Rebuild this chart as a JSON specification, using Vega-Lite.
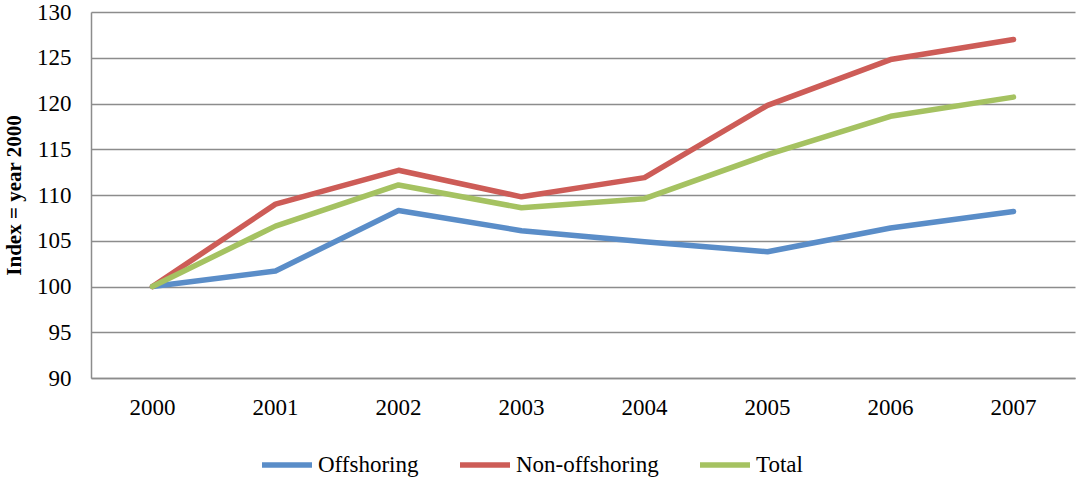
{
  "$schema": "https://vega.github.io/schema/vega-lite/v6.json",
  "width": 984,
  "height": 366,
  "autosize": {"type": "none"},
  "padding": {"left": 91, "top": 12, "right": 2, "bottom": 103},
  "background": "white",
  "config": {
    "font": "serif",
    "view": {"stroke": null}
  },
  "data": {
    "values": [
      {"year": "2000", "series": "Offshoring", "value": 100},
      {"year": "2001", "series": "Offshoring", "value": 101.7},
      {"year": "2002", "series": "Offshoring", "value": 108.3},
      {"year": "2003", "series": "Offshoring", "value": 106.1},
      {"year": "2004", "series": "Offshoring", "value": 104.9},
      {"year": "2005", "series": "Offshoring", "value": 103.8},
      {"year": "2006", "series": "Offshoring", "value": 106.4},
      {"year": "2007", "series": "Offshoring", "value": 108.2},
      {"year": "2000", "series": "Non-offshoring", "value": 100},
      {"year": "2001", "series": "Non-offshoring", "value": 109.0},
      {"year": "2002", "series": "Non-offshoring", "value": 112.7},
      {"year": "2003", "series": "Non-offshoring", "value": 109.8},
      {"year": "2004", "series": "Non-offshoring", "value": 111.9},
      {"year": "2005", "series": "Non-offshoring", "value": 119.8},
      {"year": "2006", "series": "Non-offshoring", "value": 124.8},
      {"year": "2007", "series": "Non-offshoring", "value": 127.0},
      {"year": "2000", "series": "Total", "value": 100},
      {"year": "2001", "series": "Total", "value": 106.6},
      {"year": "2002", "series": "Total", "value": 111.1},
      {"year": "2003", "series": "Total", "value": 108.6},
      {"year": "2004", "series": "Total", "value": 109.6},
      {"year": "2005", "series": "Total", "value": 114.4},
      {"year": "2006", "series": "Total", "value": 118.6},
      {"year": "2007", "series": "Total", "value": 120.7}
    ]
  },
  "mark": {"type": "line", "strokeWidth": 5.5, "strokeCap": "round", "strokeJoin": "round"},
  "encoding": {
    "x": {
      "field": "year",
      "type": "ordinal",
      "scale": {"type": "band", "paddingInner": 0, "paddingOuter": 0},
      "axis": {
        "title": null,
        "labelAngle": 0,
        "labelFont": "Times New Roman",
        "labelFontSize": 23,
        "labelColor": "black",
        "labelPadding": 18,
        "ticks": false,
        "domainColor": "#8C8C8C",
        "domainWidth": 1.5,
        "grid": false
      }
    },
    "y": {
      "field": "value",
      "type": "quantitative",
      "scale": {"domain": [90, 130], "nice": false, "zero": false},
      "axis": {
        "title": "Index = year 2000",
        "titleFont": "Liberation Serif",
        "titleFontSize": 21,
        "titleFontWeight": "bold",
        "titleColor": "black",
        "titlePadding": 12,
        "values": [90, 95, 100, 105, 110, 115, 120, 125, 130],
        "labelFont": "serif",
        "labelFontSize": 23,
        "labelColor": "black",
        "labelPadding": 20,
        "ticks": false,
        "domainColor": "#8C8C8C",
        "domainWidth": 1.5,
        "grid": true,
        "gridColor": "#8C8C8C",
        "gridWidth": 1.5
      }
    },
    "color": {
      "field": "series",
      "type": "nominal",
      "sort": ["Offshoring", "Non-offshoring", "Total"],
      "scale": {"domain": ["Offshoring", "Non-offshoring", "Total"], "range": ["#5A8DC8", "#CD5C57", "#A5C261"]},
      "legend": {
        "title": null,
        "orient": "none",
        "direction": "horizontal",
        "legendX": 168,
        "legendY": 425,
        "symbolType": "stroke",
        "symbolSize": 2500,
        "symbolStrokeWidth": 5.5,
        "labelFont": "Liberation Serif",
        "labelFontSize": 23,
        "labelFontWeight": "normal",
        "labelColor": "black",
        "labelOffset": 3,
        "columnPadding": 30
      }
    }
  }
}
